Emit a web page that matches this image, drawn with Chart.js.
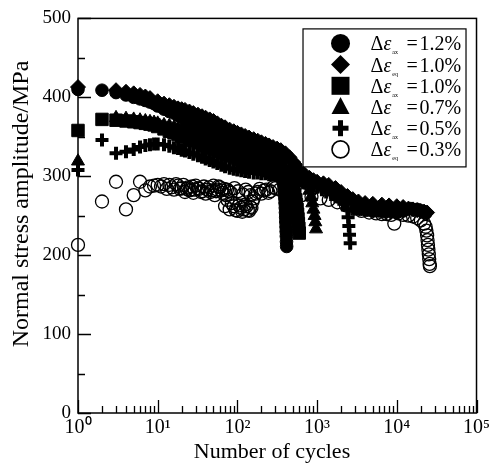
<!DOCTYPE html>
<html>
<head>
<meta charset="utf-8">
<script src="https://cdn.jsdelivr.net/npm/chart.js@4.4.1/dist/chart.umd.min.js"></script>
<style>
  html, body { margin: 0; padding: 0; background: #fff; }
</style>
</head>
<body>
<canvas id="chart" width="493" height="468"></canvas>
<script>
// Strain amplitude series (legend order): subscript|value
const seriesLabels = ['ax|1.2%', 'eq|1.0%', 'ax|1.0%', '|0.7%', 'ax|0.5%', 'eq|0.3%'];
const xTitle = 'Number of cycles';
const yTitle = 'Normal stress amplitude/MPa';

// 1.2% (filled circles)
const circleCycles = [1, 2, 3, 4, 5, 6, 7, 8, 9, 10, 12, 14, 16, 18, 20, 22, 25, 28, 32, 36, 40, 45, 50, 56, 63, 70, 80, 90, 100, 112, 125, 140, 160, 180, 200, 225, 250, 280, 310, 330, 345, 355, 365, 372, 378, 384, 389, 393, 396, 399, 401, 403, 405, 407, 409, 411, 413, 415, 3000, 3500, 4200, 5000, 6000, 7000, 8500, 10000, 12000, 15000, 18000, 21000, 23000];
const circleStress = [410, 409, 406, 403, 400, 398, 396, 394, 392, 389, 385, 382, 380, 377, 375, 373, 370, 368, 366, 364, 362, 360, 358, 356, 354, 352, 349, 347, 345, 343, 341, 339, 337, 335, 333, 331, 329, 327, 324, 320, 314, 308, 302, 296, 290, 284, 278, 272, 266, 260, 254, 248, 242, 236, 230, 224, 217, 211, 259, 258, 257, 256, 256, 255, 255, 254, 256, 259, 258, 256, 253];

// 1.0% eq (diamonds)
const diamondCycles = [1, 3, 4, 5, 6, 7, 8, 10, 12, 14, 16, 18, 20, 22, 25, 28, 32, 36, 40, 45, 50, 56, 63, 70, 80, 90, 100, 112, 125, 140, 160, 180, 200, 225, 250, 280, 315, 350, 400, 450, 500, 550, 600, 700, 800, 900, 1000, 1200, 1400, 1700, 2000, 2400, 2800, 3300, 4000, 5000, 6500, 8000, 10000, 12000, 14000, 16000, 18000, 20000, 22000, 24000];
const diamondStress = [413, 409, 407, 405, 403, 401, 399, 395, 392, 390, 388, 386, 385, 384, 382, 380, 378, 376, 374, 372, 370, 367, 364, 362, 359, 357, 355, 353, 351, 349, 347, 345, 343, 341, 339, 337, 335, 333, 329, 324, 318, 313, 308, 302, 298, 295, 293, 291, 289, 285, 280, 275, 271, 268, 266, 265, 264, 263, 262, 261, 259, 258, 257, 256, 255, 254];

// 1.0% ax (squares)
const squareCycles = [1, 2, 3, 4, 5, 6, 7, 8, 9, 10, 12, 14, 16, 18, 20, 22, 25, 28, 32, 36, 40, 45, 50, 56, 63, 70, 80, 90, 100, 112, 125, 140, 160, 180, 200, 225, 250, 280, 315, 350, 400, 450, 490, 510, 525, 540, 550, 560, 568, 575, 582, 590, 597];
const squareStress = [358, 372, 371, 370, 369, 368, 367, 366, 365, 363, 360, 357, 355, 353, 351, 349, 347, 345, 343, 341, 339, 337, 335, 333, 331, 329, 327, 325, 323, 321, 319, 317, 315, 313, 311, 309, 307, 305, 303, 301, 298, 294, 288, 282, 276, 270, 264, 258, 252, 246, 240, 234, 228];

// 0.7% (triangles)
const triangleCycles = [1, 3, 4, 5, 6, 7, 8, 9, 10, 12, 14, 16, 18, 20, 22, 25, 28, 32, 36, 40, 45, 50, 56, 63, 70, 80, 90, 100, 112, 125, 140, 160, 180, 200, 225, 250, 280, 315, 350, 400, 450, 500, 560, 630, 700, 760, 800, 840, 870, 900, 930, 950, 970];
const triangleStress = [319, 374, 373, 372, 371, 370, 369, 368, 367, 365, 364, 362, 361, 360, 359, 358, 356, 354, 352, 350, 348, 346, 344, 342, 340, 338, 336, 335, 333, 332, 330, 328, 326, 324, 322, 320, 318, 316, 314, 311, 308, 306, 303, 299, 295, 290, 282, 274, 266, 258, 250, 242, 233];

// 0.5% (plus)
const plusCycles = [1, 2, 3, 4, 5, 6, 7, 8, 9, 10, 12, 14, 16, 18, 20, 22, 25, 28, 32, 36, 40, 45, 50, 56, 63, 70, 80, 90, 100, 112, 125, 140, 160, 180, 200, 225, 250, 280, 315, 350, 400, 450, 500, 560, 630, 700, 800, 900, 1000, 1150, 1300, 1500, 1700, 1900, 2100, 2300, 2400, 2450, 2500, 2550, 2600];
const plusStress = [308, 346, 329, 331, 334, 337, 339, 340, 341, 341, 340, 338, 336, 335, 333, 332, 330, 328, 326, 324, 322, 320, 318, 316, 314, 312, 310, 309, 308, 307, 306, 305, 304, 304, 303, 303, 302, 302, 301, 300, 299, 298, 297, 296, 294, 292, 290, 288, 286, 283, 280, 277, 274, 271, 268, 265, 258, 248, 237, 226, 215];

// 0.3% eq (open circles)
const openCycles = [1, 2, 3, 4, 5, 6, 7, 8, 9, 10, 11, 12, 13, 14, 15, 16, 17, 18, 19, 20, 21, 22, 23, 24, 25, 26, 27, 28, 29, 30, 32, 33, 35, 36, 38, 40, 42, 44, 46, 48, 50, 52, 54, 56, 58, 60, 63, 65, 68, 70, 72, 74, 75, 78, 80, 83, 85, 90, 92, 95, 100, 102, 105, 110, 115, 117, 120, 125, 127, 130, 135, 137, 140, 145, 147, 150, 155, 160, 170, 180, 190, 200, 215, 230, 245, 260, 280, 300, 340, 400, 500, 650, 850, 1100, 1400, 1800, 2300, 2900, 3600, 4500, 5500, 6500, 7500, 8500, 9300, 10500, 12000, 14000, 16000, 18000, 20000, 22000, 23000, 23500, 24000, 24300, 24600, 24900, 25200, 25500, 25800, 26000];
const openStress = [213, 268, 293, 258, 276, 293, 282, 287, 288, 289, 287, 290, 284, 289, 286, 283, 290, 288, 284, 285, 289, 280, 284, 286, 282, 283, 287, 279, 283, 288, 285, 284, 280, 281, 287, 278, 283, 286, 280, 282, 288, 276, 281, 283, 287, 286, 282, 279, 284, 262, 276, 283, 270, 281, 258, 279, 266, 262, 285, 257, 256, 281, 263, 260, 255, 277, 258, 264, 283, 262, 257, 280, 256, 261, 276, 260, 268, 272, 278, 280, 284, 278, 282, 283, 279, 281, 286, 285, 283, 280, 278, 276, 274, 272, 270, 267, 263, 259, 256, 254, 253, 252, 252, 251, 240, 253, 251, 250, 249, 247, 244, 240, 236, 231, 225, 219, 213, 207, 201, 195, 189, 186];

// x axis labels at decades
const decadeValues = [1, 10, 100, 1000, 10000, 100000];
const decadeLabels = ['10\u2070', '10\u00b9', '10\u00b2', '10\u00b3', '10\u2074', '10\u2075'];

const FONT = '"Liberation Serif", "Times New Roman", serif';

const toPoints = (xs, ys) => xs.map((v, i) => ({ x: v, y: ys[i] }));

const styles = [
    { pointStyle: 'circle', pointRadius: 6.3, fill: true },
    { pointStyle: 'rectRot', pointRadius: 7.5, fill: true },
    { pointStyle: 'rect', pointRadius: 8.8, fill: true },
    { pointStyle: 'triangle', pointRadius: 7.5, fill: true },
    { pointStyle: 'cross', pointRadius: 6.5, fill: false, borderWidth: 4 },
    { pointStyle: 'circle', pointRadius: 6.5, fill: false, borderWidth: 1.3 },
];

const rawSeries = [
    [circleCycles, circleStress],
    [diamondCycles, diamondStress],
    [squareCycles, squareStress],
    [triangleCycles, triangleStress],
    [plusCycles, plusStress],
    [openCycles, openStress],
];

const datasets = rawSeries.map(([xs, ys], i) => ({
    label: seriesLabels[i],
    data: toPoints(xs, ys),
    pointStyle: styles[i].pointStyle,
    pointRadius: styles[i].pointRadius,
    pointHoverRadius: styles[i].pointRadius,
    backgroundColor: styles[i].fill ? '#000' : 'rgba(0,0,0,0)',
    borderColor: '#000',
    borderWidth: styles[i].borderWidth || 1,
    showLine: false,
    clip: false,
}));

// minor + major tick values for the log axis
const xTickValues = [];
for (let e = 0; e < 5; e++) {
    for (let m = 1; m < 10; m++) xTickValues.push(m * Math.pow(10, e));
}
xTickValues.push(100000);

// small hand-drawn marker for the legend box
function drawMarker(ctx, style, x, y) {
    ctx.beginPath();
    switch (style) {
        case 0:
            ctx.arc(x, y, 9.5, 0, Math.PI * 2);
            ctx.fill();
            break;
        case 1:
            ctx.moveTo(x, y - 9.5); ctx.lineTo(x + 9.5, y); ctx.lineTo(x, y + 9.5); ctx.lineTo(x - 9.5, y);
            ctx.closePath(); ctx.fill();
            break;
        case 2:
            ctx.fillRect(x - 9, y - 9, 18, 18);
            break;
        case 3:
            ctx.moveTo(x, y - 10); ctx.lineTo(x + 9, y + 7); ctx.lineTo(x - 9, y + 7);
            ctx.closePath(); ctx.fill();
            break;
        case 4:
            ctx.fillRect(x - 8, y - 2.5, 16, 5);
            ctx.fillRect(x - 2.5, y - 8, 5, 16);
            break;
        case 5:
            ctx.lineWidth = 1.6;
            ctx.arc(x, y, 8.5, 0, Math.PI * 2);
            ctx.stroke();
            break;
    }
}

const frameAndTicks = {
    id: 'frameAndTicks',
    beforeDatasetsDraw(chart) {
        const { ctx, chartArea: a, scales: { x, y } } = chart;
        ctx.save();
        ctx.strokeStyle = '#000';
        ctx.lineWidth = 1.5;
        ctx.strokeRect(a.left, a.top, a.right - a.left, a.bottom - a.top);
        ctx.lineWidth = 1.3;
        ctx.beginPath();
        xTickValues.forEach(v => {
            const px = Math.round(x.getPixelForValue(v)) + 0.5;
            const len = decadeValues.includes(v) ? 13 : 7;
            ctx.moveTo(px, a.bottom);
            ctx.lineTo(px, a.bottom - len);
        });
        for (let v = 0; v <= 500; v += 50) {
            const py = Math.round(y.getPixelForValue(v)) + 0.5;
            const len = v % 100 === 0 ? 13 : 7;
            ctx.moveTo(a.left, py);
            ctx.lineTo(a.left + len, py);
        }
        ctx.stroke();

        // axis titles
        ctx.fillStyle = '#000';
        ctx.textAlign = 'center';
        ctx.textBaseline = 'middle';
        ctx.font = '22px ' + FONT;
        ctx.fillText(xTitle, 272, 452);
        ctx.translate(22, 204);
        ctx.rotate(-Math.PI / 2);
        ctx.font = '24px ' + FONT;
        ctx.fillText(yTitle, 0, 0);
        ctx.restore();
    },
};

const legendBox = {
    id: 'legendBox',
    afterDatasetsDraw(chart) {
        const { ctx, chartArea: a } = chart;
        const left = a.right - 174, top = a.top + 10, w = 163, h = 138;
        ctx.save();
        ctx.fillStyle = '#fff';
        ctx.fillRect(left, top, w, h);
        ctx.strokeStyle = '#000';
        ctx.lineWidth = 1.2;
        ctx.strokeRect(left + 0.5, top + 0.5, w, h);
        ctx.fillStyle = '#000';
        ctx.textBaseline = 'alphabetic';
        seriesLabels.forEach((lbl, i) => {
            const [sub, val] = lbl.split('|');
            const cy = top + 15 + i * 21.2;
            drawMarker(ctx, i, left + 38, cy);
            const base = cy + 7;
            let tx = left + 68;
            ctx.font = '20px ' + FONT;
            ctx.fillText('\u0394', tx, base);
            tx += ctx.measureText('\u0394').width;
            ctx.font = 'italic 20px ' + FONT;
            ctx.fillText('\u03b5', tx, base);
            tx += ctx.measureText('\u03b5').width + 1;
            if (sub) {
                ctx.font = '6px ' + FONT;
                ctx.fillText(sub, tx, base + 4);
            }
            ctx.font = '20px ' + FONT;
            ctx.fillText('=', left + 104, base);
            ctx.fillText(val, left + 117, base);
        });
        ctx.restore();
    },
};

new Chart(document.getElementById('chart').getContext('2d'), {
    type: 'scatter',
    data: { datasets },
    options: {
        responsive: false,
        animation: false,
        events: [],
        layout: { padding: { top: 9, right: 14, left: 0, bottom: 0 } },
        plugins: {
            legend: { display: false },
            tooltip: { enabled: false },
        },
        scales: {
            x: {
                type: 'logarithmic',
                min: 1,
                max: 100000,
                afterBuildTicks: scale => { scale.ticks = xTickValues.map(v => ({ value: v })); },
                afterFit: scale => { scale.height = 55; },
                grid: { display: false, drawTicks: false },
                border: { display: false },
                ticks: {
                    autoSkip: false,
                    maxRotation: 0,
                    padding: 3,
                    color: '#000',
                    font: { family: FONT, size: 20 },
                    callback: v => {
                        const k = decadeValues.indexOf(v);
                        return k >= 0 ? decadeLabels[k] : '';
                    },
                },
                title: { display: false },
            },
            y: {
                min: 0,
                max: 500,
                afterFit: scale => { scale.width = 78; },
                grid: { display: false, drawTicks: false },
                border: { display: false },
                ticks: {
                    stepSize: 50,
                    padding: 7,
                    color: '#000',
                    font: { family: FONT, size: 19 },
                    callback: v => (v % 100 === 0 ? v : ''),
                },
                title: { display: false },
            },
        },
    },
    plugins: [frameAndTicks, legendBox],
});
</script>
</body>
</html>
